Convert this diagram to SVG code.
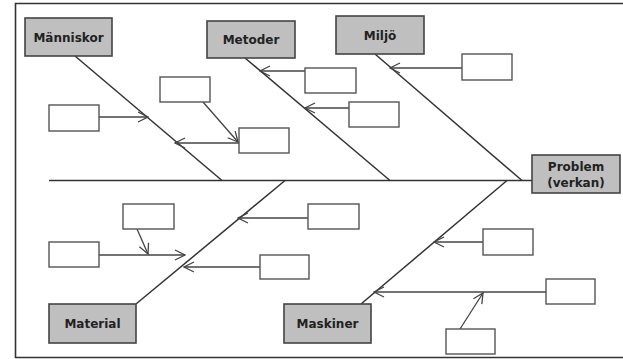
<svg xmlns="http://www.w3.org/2000/svg" width="623" height="359" viewBox="0 0 623 359">
<style>
.frame{fill:none;stroke:#333;stroke-width:1.6}
.cat{fill:#bfbfbf;stroke:#444;stroke-width:1.6}
.sub{fill:#fff;stroke:#555;stroke-width:1.4}
.ln{fill:none;stroke:#333;stroke-width:1.5}
.ar{fill:none;stroke:#444;stroke-width:1.3;marker-end:url(#v)}
text{font-family:"DejaVu Sans","Verdana",sans-serif;font-weight:bold;font-size:12px;fill:#222;text-anchor:middle}
</style>
<defs>
<marker id="v" viewBox="0 0 12 12" refX="11" refY="6" markerWidth="12" markerHeight="12" markerUnits="userSpaceOnUse" orient="auto">
<path d="M1,1 L11,6 L1,11" fill="none" stroke="#444" stroke-width="1.3"/>
</marker>
</defs>
<rect width="623" height="359" fill="#fff"/>
<path class="frame" d="M640,3.5 H15.5 V357.5 H640"/>
<g id="connectors">
<line class="ln" x1="49" y1="180.5" x2="532" y2="180.5"/>
<line class="ln" x1="75" y1="56" x2="222" y2="180.5"/>
<line class="ln" x1="245" y1="58" x2="390" y2="180.5"/>
<line class="ln" x1="375" y1="54" x2="522" y2="180.5"/>
<line class="ln" x1="136" y1="304" x2="285" y2="180.5"/>
<line class="ln" x1="361" y1="304" x2="507" y2="180.5"/>
<line class="ar" x1="99" y1="117" x2="148" y2="117"/>
<line class="ar" x1="203" y1="102" x2="238" y2="142"/>
<line class="ar" x1="239" y1="143" x2="175" y2="143"/>
<line class="ar" x1="305" y1="71" x2="260" y2="71"/>
<line class="ar" x1="349" y1="108" x2="305" y2="108"/>
<line class="ar" x1="462" y1="68" x2="390" y2="68"/>
<line class="ar" x1="137" y1="229" x2="148" y2="254"/>
<line class="ar" x1="99" y1="255" x2="185" y2="255"/>
<line class="ar" x1="260" y1="267" x2="184" y2="267"/>
<line class="ar" x1="308" y1="218" x2="238" y2="218"/>
<line class="ar" x1="483" y1="242" x2="434" y2="242"/>
<line class="ar" x1="546" y1="292" x2="374" y2="292"/>
<line class="ar" x1="460" y1="329" x2="483" y2="293"/>
</g>
<g id="manniskor"><rect class="cat" x="25" y="18" width="87" height="38"/><text x="68.5" y="41.5">Människor</text></g>
<g id="metoder"><rect class="cat" x="207" y="21" width="88" height="37"/><text x="251" y="44">Metoder</text></g>
<g id="miljo"><rect class="cat" x="336" y="16" width="88" height="38"/><text x="380" y="39.5">Miljö</text></g>
<g id="problem"><rect class="cat" x="532" y="155" width="88" height="38"/><text x="576" y="171">Problem</text><text x="576" y="187">(verkan)</text></g>
<g id="material"><rect class="cat" x="49" y="304" width="87" height="39"/><text x="92.5" y="328">Material</text></g>
<g id="maskiner"><rect class="cat" x="284" y="304" width="87" height="39"/><text x="327.5" y="328">Maskiner</text></g>
<g id="b1"><rect class="sub" x="49" y="105" width="50" height="26"/></g>
<g id="b2"><rect class="sub" x="160" y="77" width="50" height="25"/></g>
<g id="b3"><rect class="sub" x="239" y="128" width="50" height="25"/></g>
<g id="b4"><rect class="sub" x="305" y="68" width="51" height="25"/></g>
<g id="b5"><rect class="sub" x="349" y="102" width="50" height="25"/></g>
<g id="b6"><rect class="sub" x="462" y="54" width="50" height="26"/></g>
<g id="b7"><rect class="sub" x="123" y="204" width="51" height="25"/></g>
<g id="b8"><rect class="sub" x="49" y="242" width="50" height="25"/></g>
<g id="b9"><rect class="sub" x="260" y="255" width="49" height="24"/></g>
<g id="b10"><rect class="sub" x="308" y="204" width="51" height="25"/></g>
<g id="b11"><rect class="sub" x="483" y="229" width="50" height="26"/></g>
<g id="b12"><rect class="sub" x="546" y="279" width="49" height="25"/></g>
<g id="b13"><rect class="sub" x="446" y="329" width="49" height="25"/></g>
</svg>
